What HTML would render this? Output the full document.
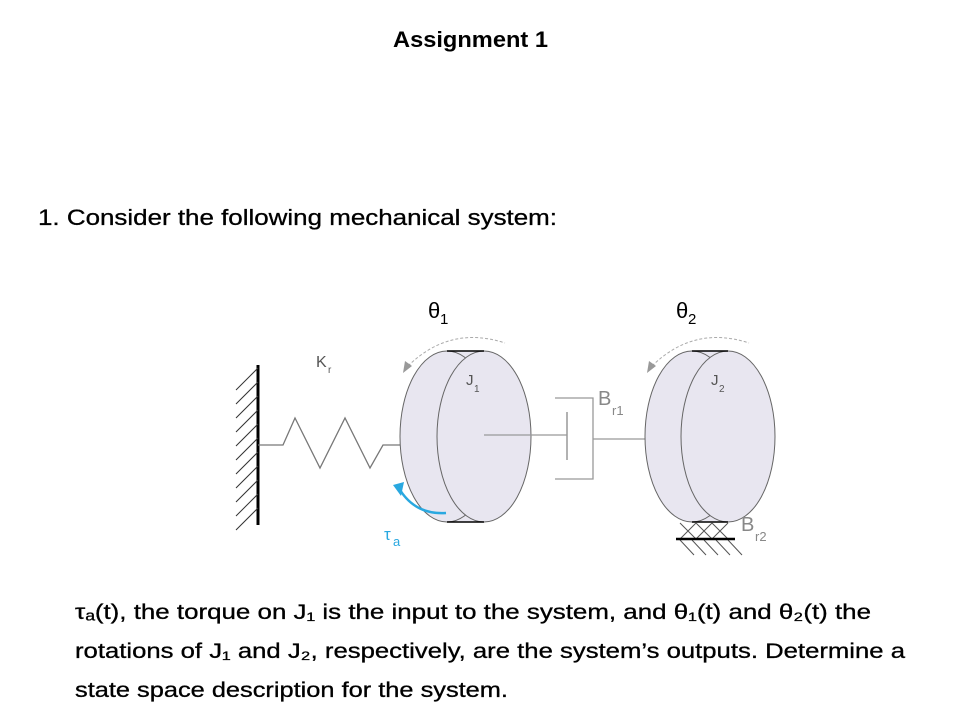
<!DOCTYPE html>
<html><head><meta charset="utf-8"><style>
html,body{margin:0;padding:0;background:#fff}
svg{display:block}
</style></head><body>
<svg width="968" height="726" viewBox="0 0 968 726" xmlns="http://www.w3.org/2000/svg" font-family="Liberation Sans, sans-serif">
<text x="393" y="47" font-size="22" font-weight="bold" textLength="155" lengthAdjust="spacingAndGlyphs">Assignment 1</text>
<text x="38" y="225" font-size="22" textLength="519" lengthAdjust="spacingAndGlyphs" stroke="#000" stroke-width="0.3">1. Consider the following mechanical system:</text>

<line x1="258" y1="365" x2="258" y2="525" stroke="#000" stroke-width="3"/>
<g stroke="#333" stroke-width="1">
<line x1="258" y1="368" x2="236" y2="390"/><line x1="258" y1="382" x2="236" y2="404"/>
<line x1="258" y1="396" x2="236" y2="418"/><line x1="258" y1="410" x2="236" y2="432"/>
<line x1="258" y1="424" x2="236" y2="446"/><line x1="258" y1="438" x2="236" y2="460"/>
<line x1="258" y1="452" x2="236" y2="474"/><line x1="258" y1="466" x2="236" y2="488"/>
<line x1="258" y1="480" x2="236" y2="502"/><line x1="258" y1="494" x2="236" y2="516"/>
<line x1="258" y1="508" x2="236" y2="530"/>
</g>
<polyline points="258,445 283,445 295,418 320,468 345,418 370,468 383,445 400,445" fill="none" stroke="#777" stroke-width="1.3"/>
<path d="M447,351 L484,351 L484,522 L447,522 Z" fill="#e8e6f0"/>
<ellipse cx="447" cy="436.5" rx="47" ry="85.5" fill="#e8e6f0" stroke="#666" stroke-width="1"/>
<ellipse cx="484" cy="436.5" rx="47" ry="85.5" fill="#e8e6f0" stroke="#666" stroke-width="1"/>
<line x1="447" y1="351" x2="484" y2="351" stroke="#000" stroke-width="1.5"/>
<line x1="447" y1="522" x2="484" y2="522" stroke="#000" stroke-width="1.5"/>
<line x1="484" y1="435" x2="567" y2="435" stroke="#999" stroke-width="1.3"/>
<line x1="567" y1="412" x2="567" y2="460" stroke="#999" stroke-width="1.5"/>
<polyline points="555,398 593,398 593,479 555,479" fill="none" stroke="#999" stroke-width="1.3"/>
<line x1="593" y1="439" x2="646" y2="439" stroke="#999" stroke-width="1.3"/>
<path d="M692,351 L728,351 L728,522 L692,522 Z" fill="#e8e6f0"/>
<ellipse cx="692" cy="436.5" rx="47" ry="85.5" fill="#e8e6f0" stroke="#666" stroke-width="1"/>
<ellipse cx="728" cy="436.5" rx="47" ry="85.5" fill="#e8e6f0" stroke="#666" stroke-width="1"/>
<line x1="692" y1="351" x2="728" y2="351" stroke="#000" stroke-width="1.5"/>
<line x1="692" y1="522" x2="728" y2="522" stroke="#000" stroke-width="1.5"/>
<g stroke="#555" stroke-width="1">
<path d="M680,523 L696,539 M696,523 L680,539 M696,523 L712,539 M712,523 L696,539 M712,523 L728,539 M728,523 L712,539"/>
<path d="M680,540 L694,555 M692,540 L706,555 M704,540 L718,555 M716,540 L730,555 M728,540 L742,555"/>
</g>
<line x1="676" y1="539" x2="735" y2="539" stroke="#000" stroke-width="2.5"/>
<path d="M408,366 Q450,325 505,343" fill="none" stroke="#aaa" stroke-width="1" stroke-dasharray="3,2"/>
<polygon points="403,373 405,361 412,366" fill="#999"/>
<path d="M652,366 Q694,325 749,343" fill="none" stroke="#aaa" stroke-width="1" stroke-dasharray="3,2"/>
<polygon points="647,373 649,361 656,366" fill="#999"/>
<path d="M446,513 Q416,515 400,490" fill="none" stroke="#29a8e0" stroke-width="2.5"/>
<polygon points="393,485 404,482 401,496" fill="#29a8e0"/>
<text x="428" y="318" font-size="22" fill="#000">θ</text><text x="440" y="324" font-size="15" fill="#000">1</text>
<text x="676" y="318" font-size="22" fill="#000">θ</text><text x="688" y="324" font-size="15" fill="#000">2</text>
<text x="316" y="367" font-size="16" fill="#555">K</text><text x="328" y="373" font-size="10" fill="#555">r</text>
<text x="466" y="385" font-size="15" fill="#555">J</text><text x="474" y="392" font-size="10" fill="#555">1</text>
<text x="711" y="385" font-size="15" fill="#555">J</text><text x="719" y="392" font-size="10" fill="#555">2</text>
<text x="598" y="405" font-size="20" fill="#888">B</text><text x="612" y="415" font-size="13" fill="#888">r1</text>
<text x="741" y="531" font-size="20" fill="#888">B</text><text x="755" y="541" font-size="13" fill="#888">r2</text>
<text x="384" y="540" font-size="17" fill="#29a8e0">τ</text><text x="393" y="546" font-size="13" fill="#29a8e0">a</text>

<g stroke="#000" stroke-width="0.3">
<text x="75" y="619" font-size="21" textLength="796" lengthAdjust="spacingAndGlyphs">τₐ(t), the torque on J₁ is the input to the system, and θ₁(t) and θ₂(t) the</text>
<text x="75" y="658" font-size="21" textLength="830" lengthAdjust="spacingAndGlyphs">rotations of J₁ and J₂, respectively, are the system’s outputs. Determine a</text>
<text x="75" y="697" font-size="21" textLength="433" lengthAdjust="spacingAndGlyphs">state space description for the system.</text>
</g>
</svg>
</body></html>
